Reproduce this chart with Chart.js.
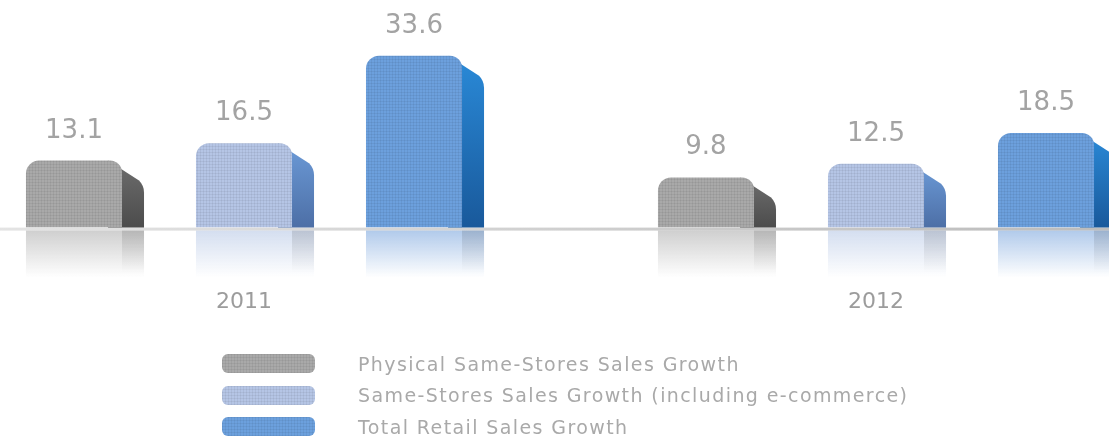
<!DOCTYPE html>
<html>
<head>
<meta charset="utf-8">
<script src="https://cdn.jsdelivr.net/npm/chart.js@4/dist/chart.umd.min.js"></script>
<style>
  html, body { margin: 0; padding: 0; background: #fff; }
  #wrap { position: relative; width: 1109px; height: 443px; overflow: hidden; font-family: "DejaVu Sans", sans-serif; }
  #plot { position: absolute; left: -72px; top: 0; width: 1264px; height: 384px; }
  #legend { position: absolute; left: 222px; top: 348px; }
  .row { display: flex; align-items: center; height: 31.5px; }
  .box { width: 93px; height: 19px; border-radius: 6px; margin-right: 43px;
         background-image: linear-gradient(rgba(0,0,0,0.05) 1px, transparent 1px),
                           linear-gradient(90deg, rgba(0,0,0,0.05) 1px, transparent 1px);
         background-size: 3px 3px; }
  .txt { font-size: 19px; color: #a9a9a9; letter-spacing: 1.4px; }
</style>
</head>
<body>
<div id="wrap">
  <div id="plot"><canvas id="growthChart"></canvas></div>
  <div id="legend"></div>
</div>
<script>
// growth rates in %, one value per year
const years = ['2011', '2012'];
const seriesNames = [
    'Physical Same-Stores Sales Growth',
    'Same-Stores Sales Growth (including e-commerce)',
    'Total Retail Sales Growth'
];
const physicalGrowth = [13.1, 9.8];
const sameStoreGrowth = [16.5, 12.5];
const totalRetailGrowth = [33.6, 18.5];

// front face, side face top, side face bottom
const palette = [
    { front: '#a9a9a9', sideTop: '#6e6e6e', sideBottom: '#4c4c4c', glow: '160,160,160' },
    { front: '#b5c5e5', sideTop: '#6c9bd8', sideBottom: '#4d6fa6', glow: '170,190,225' },
    { front: '#6ca0dd', sideTop: '#2a8ad8', sideBottom: '#19599b', glow: '100,150,215' }
];

const SIDE = 22;

// fine grid texture like a printed halftone
function makePattern(color) {
    const c = document.createElement('canvas');
    c.width = 3; c.height = 3;
    const g = c.getContext('2d');
    g.fillStyle = color;
    g.fillRect(0, 0, 3, 3);
    g.fillStyle = 'rgba(0,0,0,0.05)';
    g.fillRect(2, 0, 1, 3);
    g.fillRect(0, 2, 3, 1);
    return g.createPattern(c, 'repeat');
}

// baseline, reflections and the right hand side faces
const bar3d = {
    id: 'bar3d',
    beforeDatasetsDraw(chart) {
        const ctx = chart.ctx;
        const base = chart.scales.y.getPixelForValue(0);
        ctx.save();
        const lg = ctx.createLinearGradient(0, 0, chart.width, 0);
        lg.addColorStop(0, '#e6e6e6');
        lg.addColorStop(1, '#b9b9b9');
        ctx.fillStyle = lg;
        ctx.fillRect(0, base, chart.width, 3);

        chart.data.datasets.forEach((ds, di) => {
            const col = palette[di];
            chart.getDatasetMeta(di).data.forEach((bar) => {
                const left = bar.x - bar.width / 2;
                const right = bar.x + bar.width / 2;
                const top = bar.y;

                // reflection
                const rg = ctx.createLinearGradient(0, base + 3, 0, base + 50);
                rg.addColorStop(0, 'rgba(' + col.glow + ',0.5)');
                rg.addColorStop(1, 'rgba(' + col.glow + ',0)');
                ctx.fillStyle = rg;
                ctx.fillRect(left, base + 3, bar.width + SIDE, 47);
                const rs = ctx.createLinearGradient(0, base + 3, 0, base + 45);
                rs.addColorStop(0, 'rgba(0,0,0,0.12)');
                rs.addColorStop(1, 'rgba(0,0,0,0)');
                ctx.fillStyle = rs;
                ctx.fillRect(right, base + 3, SIDE, 42);

                // side face
                const sg = ctx.createLinearGradient(0, top, 0, base);
                sg.addColorStop(0, col.sideTop);
                sg.addColorStop(1, col.sideBottom);
                ctx.fillStyle = sg;
                ctx.beginPath();
                ctx.moveTo(right - 14, top);
                ctx.lineTo(right + SIDE - 5, top + 20);
                ctx.quadraticCurveTo(right + SIDE, top + 25, right + SIDE, top + 32);
                ctx.lineTo(right + SIDE, base);
                ctx.lineTo(right - 14, base);
                ctx.closePath();
                ctx.fill();
            });
        });
        ctx.restore();
    },
    afterDatasetsDraw(chart) {
        const ctx = chart.ctx;
        ctx.save();
        ctx.font = '26px "DejaVu Sans", sans-serif';
        ctx.fillStyle = '#a3a3a3';
        ctx.textAlign = 'center';
        ctx.textBaseline = 'alphabetic';
        chart.data.datasets.forEach((ds, di) => {
            chart.getDatasetMeta(di).data.forEach((bar, i) => {
                ctx.fillText(ds.data[i].toFixed(1), bar.x, bar.y - 23);
            });
        });
        ctx.restore();
    }
};

const seriesValues = [physicalGrowth, sameStoreGrowth, totalRetailGrowth];

const chart = new Chart(document.getElementById('growthChart'), {
    type: 'bar',
    data: {
        labels: years,
        datasets: seriesValues.map((vals, i) => ({
            label: seriesNames[i],
            data: vals,
            backgroundColor: makePattern(palette[i].front),
            borderWidth: 0,
            borderSkipped: 'bottom',
            borderRadius: { topLeft: 13, topRight: 12, bottomLeft: 0, bottomRight: 0 },
            barPercentage: 0.565,
            categoryPercentage: 0.807
        }))
    },
    options: {
        responsive: true,
        maintainAspectRatio: false,
        animation: false,
        layout: { padding: { top: 23, bottom: 8, left: 0, right: 0 } },
        plugins: {
            legend: { display: false },
            tooltip: { enabled: false }
        },
        scales: {
            x: {
                grid: { display: false, drawTicks: false },
                border: { display: false },
                ticks: {
                    padding: 61,
                    color: '#9c9c9c',
                    font: { family: '"DejaVu Sans", sans-serif', size: 22 }
                }
            },
            y: {
                display: false,
                min: 0,
                max: 40
            }
        }
    },
    plugins: [bar3d]
});

// legend in a single column under the plot
const legend = document.getElementById('legend');
seriesNames.forEach((name, i) => {
    const row = document.createElement('div');
    row.className = 'row';
    const box = document.createElement('div');
    box.className = 'box';
    box.style.backgroundColor = palette[i].front;
    const txt = document.createElement('span');
    txt.className = 'txt';
    txt.textContent = name;
    row.appendChild(box);
    row.appendChild(txt);
    legend.appendChild(row);
});
</script>
</body>
</html>
